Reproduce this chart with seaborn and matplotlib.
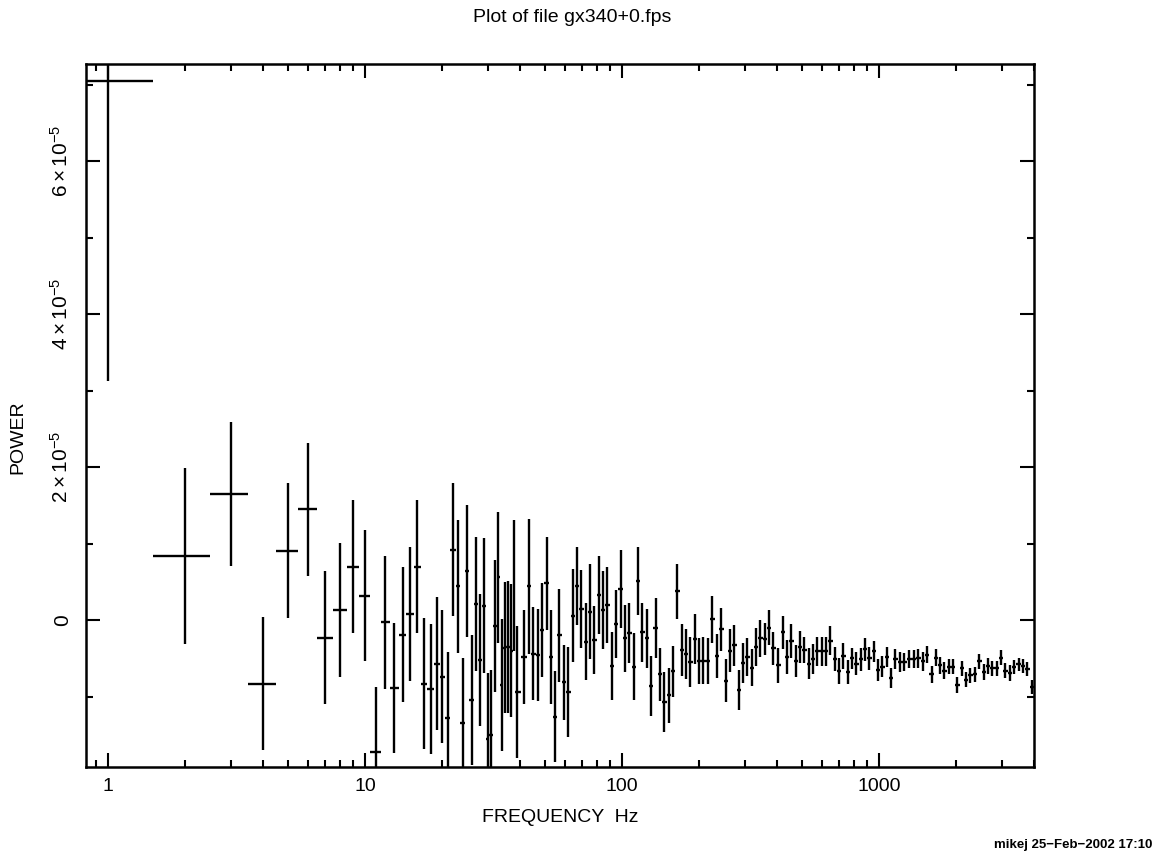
import numpy as np
import matplotlib
matplotlib.use("Agg")
import matplotlib.pyplot as plt
import matplotlib.ticker as mticker
import seaborn as sns

# frequency bin centres (Hz): 1 Hz bins up to 39 Hz, then ~4% log bins
freq_lin = list(range(1, 40))
freq_log = [41.7, 43.5, 45.2, 47.0, 48.7, 50.9, 52.9, 54.9, 57.0, 59.5,
            61.8, 64.3, 66.8, 69.4, 72.3, 75.1, 78.0, 81.2, 84.4, 87.7,
            91.4, 95.0, 98.8, 102.7, 106.8, 111.1, 115.1, 120.0, 125.1, 130.0,
            135.2, 140.6, 146.1, 151.9, 157.9, 164.1, 170.8, 177.5, 184.4, 192.3,
            199.4, 207.2, 216.1, 224.6, 234.2, 243.4, 253.2, 263.2, 273.5, 285.3,
            295.7, 307.3, 319.6, 332.1, 345.2, 360.0, 374.3, 388.0, 405.8, 422.1,
            438.6, 455.9, 474.2, 492.8, 512.1, 532.8, 553.7, 575.4, 598.4, 622.1,
            646.5, 672.5, 698.9, 726.3, 755.5, 785.1, 815.9, 848.7, 882.0, 916.6,
            953.6, 991.1, 1030, 1072, 1114, 1157, 1204, 1251, 1312, 1368,
            1422, 1479, 1533, 1604, 1667, 1728, 1796, 1867, 1935, 2017,
            2098, 2181, 2266, 2357, 2457, 2555, 2655, 2760, 2871, 2984,
            3100, 3226, 3352, 3496, 3634, 3776, 3928]

# power in units of 1e-5
power_lin = [7.05, 0.84, 1.65, -0.83, 0.91, 1.45, -0.23, 0.13, 0.70, 0.32,
             -1.72, -0.03, -0.89, -0.19, 0.08, 0.70, -0.83, -0.90, -0.57, -0.74,
             -1.28, 0.92, 0.44, -1.34, 0.64, -1.04, 0.21, -0.52, 0.19, -1.56,
             -1.50, -0.08, 0.56, -0.85, -0.36, -0.35, -0.40, 0.45, -0.94]
power_log = [-0.48, 0.44, -0.44, -0.46, -0.13, 0.48, -0.48, -1.26, -0.20, -0.81,
             -0.94, 0.06, 0.45, 0.14, -0.28, 0.11, -0.26, 0.33, 0.13, 0.20,
             -0.60, -0.05, 0.41, -0.24, -0.17, -0.61, 0.51, -0.16, -0.24, -0.86,
             -0.10, -0.71, -1.07, -0.98, -0.67, 0.38, -0.39, -0.44, -0.55, -0.25,
             -0.53, -0.53, -0.54, 0.01, -0.47, -0.12, -0.79, -0.40, -0.33, -0.91,
             -0.56, -0.48, -0.62, -0.35, -0.24, -0.25, -0.10, -0.37, -0.59, -0.16,
             -0.48, -0.27, -0.54, -0.35, -0.39, -0.57, -0.51, -0.41, -0.41, -0.41,
             -0.27, -0.51, -0.66, -0.47, -0.68, -0.50, -0.57, -0.51, -0.38, -0.50,
             -0.41, -0.65, -0.61, -0.48, -0.76, -0.51, -0.55, -0.55, -0.51, -0.51,
             -0.50, -0.54, -0.45, -0.71, -0.49, -0.59, -0.66, -0.61, -0.61, -0.85,
             -0.63, -0.78, -0.72, -0.71, -0.54, -0.68, -0.60, -0.63, -0.63, -0.49,
             -0.66, -0.69, -0.61, -0.58, -0.60, -0.64, -0.87]

# 1-sigma errors, units of 1e-5
err_lin = [3.92, 1.15, 0.94, 0.87, 0.88, 0.87, 0.87, 0.88, 0.87, 0.86,
           0.85, 0.87, 0.85, 0.88, 0.88, 0.87, 0.86, 0.85, 0.87, 0.87,
           0.86, 0.87, 0.87, 0.85, 0.86, 0.85, 0.88, 0.86, 0.88, 0.87,
           0.85, 0.86, 0.86, 0.86, 0.86, 0.86, 0.87, 0.86, 0.86]
err_log = [0.61, 0.88, 0.61, 0.60, 0.61, 0.61, 0.61, 0.60, 0.61, 0.49,
           0.59, 0.61, 0.51, 0.51, 0.50, 0.62, 0.44, 0.51, 0.51, 0.50,
           0.44, 0.44, 0.51, 0.44, 0.39, 0.44, 0.44, 0.39, 0.39, 0.39,
           0.39, 0.35, 0.39, 0.36, 0.33, 0.36, 0.34, 0.33, 0.33, 0.33,
           0.30, 0.31, 0.30, 0.31, 0.29, 0.28, 0.28, 0.28, 0.27, 0.26,
           0.26, 0.25, 0.24, 0.25, 0.24, 0.21, 0.23, 0.22, 0.23, 0.22,
           0.22, 0.22, 0.21, 0.21, 0.17, 0.20, 0.20, 0.19, 0.19, 0.19,
           0.19, 0.16, 0.17, 0.17, 0.16, 0.14, 0.15, 0.15, 0.15, 0.15,
           0.14, 0.14, 0.14, 0.13, 0.13, 0.13, 0.13, 0.12, 0.12, 0.12,
           0.12, 0.12, 0.11, 0.11, 0.11, 0.11, 0.11, 0.10, 0.10, 0.10,
           0.10, 0.10, 0.10, 0.10, 0.10, 0.10, 0.10, 0.10, 0.10, 0.10,
           0.10, 0.10, 0.09, 0.09, 0.09, 0.09, 0.09]

freq = np.array(freq_lin + freq_log, dtype=float)
power = np.array(power_lin + power_log) * 1e-5
err = np.array(err_lin + err_log) * 1e-5

# horizontal bars = bin widths, half way to the neighbouring bins
mid = (freq[1:] + freq[:-1]) / 2
lo = np.empty_like(freq)
hi = np.empty_like(freq)
lo[1:] = freq[1:] - mid
hi[:-1] = mid - freq[:-1]
lo[0] = hi[0]
hi[-1] = lo[-1]

sns.set_theme(style="ticks")
plt.rcParams['font.family'] = ['Liberation Sans', 'DejaVu Sans']
plt.rcParams['text.color'] = 'black'
plt.rcParams['mathtext.fontset'] = 'custom'
plt.rcParams['mathtext.rm'] = 'Liberation Sans'
plt.rcParams['mathtext.it'] = 'Liberation Sans'

fig = plt.figure(figsize=(11.58, 8.56), dpi=100)
ax = fig.add_axes([86 / 1158, 1 - 767 / 856, 948 / 1158, 703 / 856])

ax.errorbar(freq, power, yerr=err, xerr=[lo, hi], fmt='none',
            ecolor='black', elinewidth=1.7, capsize=0)

ax.set_xscale('log')
ax.set_xlim(0.821, 4010)
ax.set_ylim(-1.92e-5, 7.27e-5)

ax.xaxis.set_major_locator(mticker.FixedLocator([1, 10, 100, 1000]))
ax.xaxis.set_major_formatter(mticker.FixedFormatter(['1', '10', '100', '1000']))
ax.xaxis.set_minor_locator(mticker.LogLocator(base=10, subs=np.arange(2, 10), numticks=20))
ax.xaxis.set_minor_formatter(mticker.NullFormatter())

yt = [0, 2e-5, 4e-5, 6e-5]
ax.yaxis.set_major_locator(mticker.FixedLocator(yt))
ax.yaxis.set_major_formatter(mticker.FixedFormatter(
    ['0', r'$2\times10^{-5}$', r'$4\times10^{-5}$', r'$6\times10^{-5}$']))
ax.yaxis.set_minor_locator(mticker.MultipleLocator(1e-5))

ax.tick_params(which='both', direction='in', top=True, right=True,
               width=1.5, colors='black', labelcolor='black', labelsize=14)
ax.tick_params(axis='y', labelsize=15)
ax.tick_params(which='major', length=10)
ax.tick_params(which='minor', length=5)
ax.tick_params(axis='x', pad=8)
ax.tick_params(axis='y', pad=10)
plt.setp(ax.get_yticklabels(), rotation=90, va='center')

for s in ax.spines.values():
    s.set_linewidth(1.8)
    s.set_color('black')

fig.text(572 / 1158, 1 - 18 / 856, 'Plot of file gx340+0.fps',
         ha='center', va='center', fontsize=14, color='black')
fig.text(560 / 1158, 1 - 818 / 856, 'FREQUENCY  Hz',
         ha='center', va='center', fontsize=14, color='black')
fig.text(18 / 1158, 1 - 437 / 856, 'POWER', rotation=90,
         ha='center', va='center', fontsize=14, color='black')
fig.text(1152 / 1158, 1 - 845 / 856, 'mikej 25\u2212Feb\u22122002 17:10',
         ha='right', va='center', fontsize=9.5, fontweight='bold', color='black')

fig.savefig('out.png', dpi=100)
